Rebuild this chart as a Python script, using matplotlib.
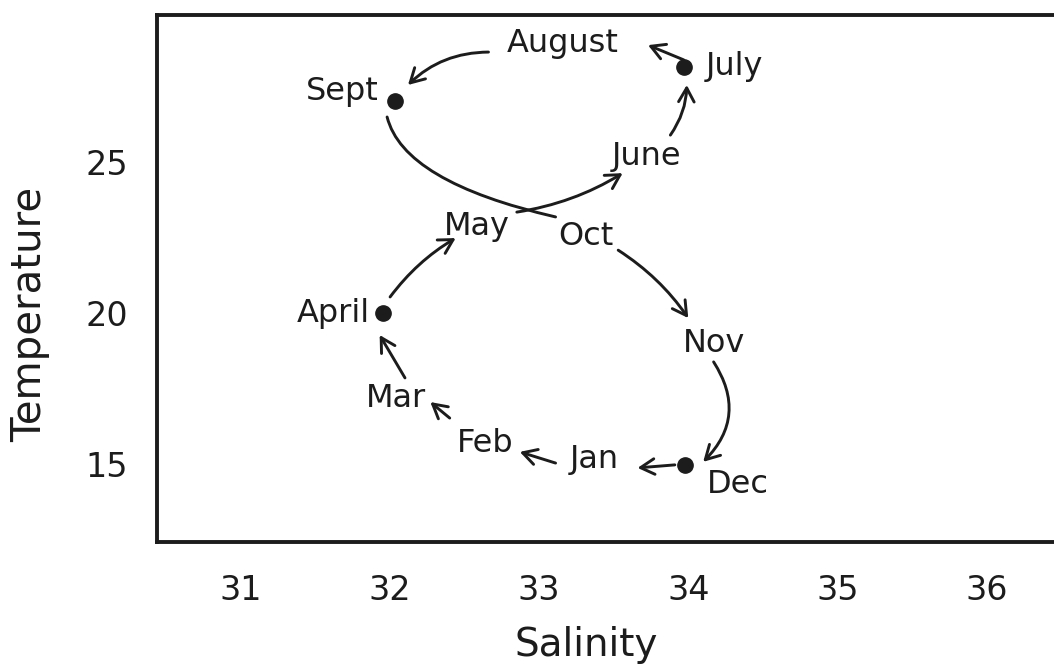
import matplotlib
matplotlib.use("Agg")
import matplotlib.pyplot as plt

# monthly T-S values: label positions (salinity, temperature)
months = ['Jan', 'Feb', 'Mar', 'April', 'May', 'June',
          'July', 'August', 'Sept', 'Oct', 'Nov', 'Dec']
label_sal = [33.37, 32.64, 32.04, 31.62, 32.58, 33.72,
             34.31, 33.16, 31.68, 33.31, 34.17, 34.33]
label_temp = [14.86, 15.39, 16.88, 19.69, 22.57, 24.89,
              27.87, 28.63, 27.04, 22.24, 18.70, 14.03]

# seasonal extremes marked with dots
dot_sal = [31.95, 33.97, 32.03, 33.98]
dot_temp = [20.0, 28.13, 27.0, 14.96]

# arrows from one month to the next
arrow_start = [(33.11, 15.02), (32.40, 16.51), (32.10, 17.84), (32.00, 20.52),
               (32.85, 23.33), (33.88, 25.88), (33.97, 28.37), (32.66, 28.63),
               (31.98, 26.48), (33.53, 22.07), (34.17, 18.37), (33.91, 14.96)]
arrow_end = [(32.87, 15.39), (32.27, 17.04), (31.93, 19.26), (32.44, 22.47),
             (33.56, 24.62), (33.99, 27.54), (33.73, 28.86), (32.12, 27.54),
             (33.11, 23.17), (34.00, 19.82), (34.10, 15.06), (33.66, 14.86)]

sal_ticks = [31, 32, 33, 34, 35, 36]
temp_ticks = [15, 20, 25]

# curve shape of each arrow; Sept -> Oct is a plain line with no head
conn = ['arc3,rad=0', 'arc3,rad=0', 'arc3,rad=0', 'arc3,rad=-0.1',
        'arc3,rad=0.1', 'arc3,rad=0.15', 'arc3,rad=0', 'arc3,rad=0.2',
        'angle3,angleA=-76,angleB=-13', 'arc3,rad=-0.1', 'arc3,rad=-0.4',
        'arc3,rad=0']
heads = [True] * 8 + [False] + [True] * 3

ink = '#1c1c1c'

fig = plt.figure(figsize=(10.54, 6.67), dpi=100)
ax = fig.add_axes([0.149, 0.1874, 0.851, 0.7901])
ax.set_xlim(30.437, 36.453)
ax.set_ylim(12.406, 29.857)

for side in ['left', 'top', 'bottom']:
    ax.spines[side].set_linewidth(2.8)
    ax.spines[side].set_color(ink)
ax.spines['right'].set_visible(False)

ax.set_xticks(sal_ticks)
ax.set_yticks(temp_ticks)
ax.tick_params(length=0, labelsize=24, colors=ink)
ax.tick_params(axis='x', pad=23)
ax.tick_params(axis='y', pad=21)

ax.set_xlabel('Salinity', fontsize=28, color=ink)
ax.set_ylabel('Temperature', fontsize=29, color=ink)
ax.xaxis.set_label_coords(0.479, -0.195)
ax.xaxis.label.set_va('center')
ax.yaxis.set_label_coords(-0.141, 0.431)
ax.yaxis.label.set_va('center')

for name, s, t in zip(months, label_sal, label_temp):
    ax.text(s, t, name, fontsize=23, color=ink, ha='center', va='baseline')

ax.plot(dot_sal, dot_temp, 'o', color=ink, markersize=11, linestyle='none')

for a, b, c, head in zip(arrow_start, arrow_end, conn, heads):
    style = '->,head_length=0.5,head_width=0.28' if head else '-'
    ax.annotate('', xy=b, xytext=a,
                arrowprops=dict(arrowstyle=style, color=ink, lw=2.1,
                                mutation_scale=20, shrinkA=0, shrinkB=0,
                                connectionstyle=c))

fig.savefig('out.png', dpi=100)
